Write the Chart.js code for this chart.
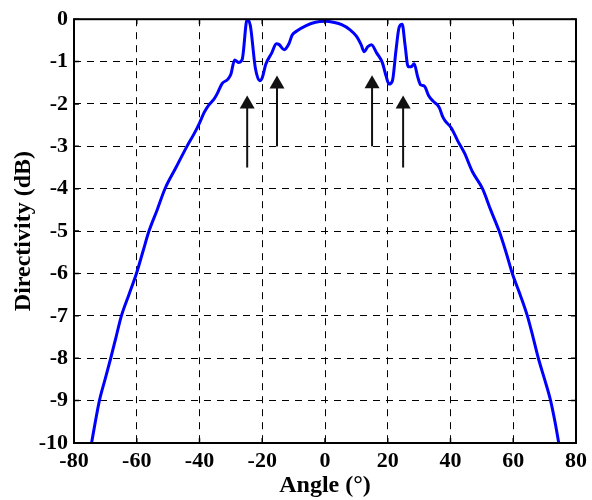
<!DOCTYPE html>
<html lang="en">
  <head>
    <title>Directivity vs Angle</title>
    <meta charset="UTF-8" />
    <script src="https://cdn.jsdelivr.net/npm/chart.js@4.4.1/dist/chart.umd.min.js"></script>
    <style>
      html, body { margin: 0; padding: 0; background: #fff; }
      #wrap { width: 592px; height: 500px; }
    </style>
  </head>

  <body>
    <div id="wrap"><canvas id="chart"></canvas></div>

    <script>
      const angles = [
        -74.4, -73.2, -71.9, -70.1, -68.3, -66.6, -64.9, -62.5, -60.1, -58.1,
        -56.1, -53.5, -51, -47.5, -44, -41.7, -40, -38.5, -37, -35.5, -34.3,
        -32.8, -31, -30, -28.8, -27.6, -26.4, -24.8, -23.8, -22.2, -20.8, -20,
        -18.9, -17, -15.5, -14.6, -13, -11.5, -10.5, -9, -6, -3, 0, 3, 5.3, 8,
        10, 11.5, 12.5, 13.6, 14.8, 16.5, 18.3, 19.5, 20.4, 21.5, 22.6, 23.6,
        24.6, 25.5, 26.5, 27.5, 28.4, 29.5, 30.5, 31.7, 33, 34.4, 35.8, 36.5,
        37.5, 38.3, 40.2, 42.3, 44.4, 47, 50.2, 52.8, 55.5, 57.7, 59.7, 62.2,
        64.5, 66.3, 68.0, 70.0, 71.9, 73.3, 74.5,
      ]
      const directivity = [
        -10, -9.5, -9.0, -8.5, -8.0, -7.5, -7.0, -6.5, -6.0, -5.5,
        -5.0, -4.5, -4.0, -3.5, -3.0, -2.7, -2.45, -2.2, -2.02, -1.9,
        -1.75, -1.52, -1.42, -1.3, -0.96, -1.02, -0.95, 0, -0.15, -1.15, -1.45,
        -1.38, -1.07, -0.8, -0.58, -0.6, -0.72, -0.58, -0.38, -0.28, -0.15,
        -0.07, -0.05, -0.08, -0.13, -0.25, -0.4, -0.6, -0.77, -0.65, -0.6,
        -0.8, -1.03, -1.35, -1.53, -1.45, -0.75, -0.2, -0.12, -0.6, -1.12,
        -1.12, -1.05, -1.35, -1.55, -1.58, -1.8, -1.93, -2.02, -2.1, -2.3,
        -2.4, -2.56, -2.87, -3.15, -3.6, -4.0, -4.5, -5.0, -5.5, -6.0, -6.5,
        -7.0, -7.5, -8.0, -8.5, -9.0, -9.5, -10,
      ]

      // arrows: angle, tail (dB), tip (dB)
      const arrowX = [-24.8, -15.3, 15.0, 24.9]
      const arrowTail = [-3.5, -3.0, -3.0, -3.5]
      const arrowTip = [-1.8, -1.33, -1.32, -1.8]

      const xTicks = [-80, -60, -40, -20, 0, 20, 40, 60, 80]
      const yTicks = [0, -1, -2, -3, -4, -5, -6, -7, -8, -9, -10]

      const tickFont = { family: 'Liberation Serif', size: 22, weight: 'bold' }
      const titleFont = { family: 'Liberation Serif', size: 24, weight: 'bold' }

      const frame = {
        id: 'frame',
        afterDatasetsDraw(chart) {
          const { ctx, chartArea: a, scales } = chart
          ctx.save()
          // arrows
          ctx.fillStyle = '#111'
          ctx.strokeStyle = '#111'
          ctx.lineWidth = 2
          arrowX.forEach((ax, i) => {
            const px = scales.x.getPixelForValue(ax)
            const y0 = scales.y.getPixelForValue(arrowTail[i])
            const y1 = scales.y.getPixelForValue(arrowTip[i])
            ctx.beginPath()
            ctx.moveTo(px, y0)
            ctx.lineTo(px, y1 + 10)
            ctx.stroke()
            ctx.beginPath()
            ctx.moveTo(px, y1)
            ctx.lineTo(px - 7.5, y1 + 13)
            ctx.lineTo(px + 7.5, y1 + 13)
            ctx.closePath()
            ctx.fill()
          })
          // box and inward ticks
          ctx.strokeStyle = '#000'
          ctx.lineWidth = 2
          ctx.strokeRect(a.left, a.top, a.right - a.left, a.bottom - a.top)
          ctx.lineWidth = 1.5
          ctx.beginPath()
          xTicks.forEach((v) => {
            const p = scales.x.getPixelForValue(v)
            ctx.moveTo(p, a.bottom)
            ctx.lineTo(p, a.bottom - 5)
            ctx.moveTo(p, a.top)
            ctx.lineTo(p, a.top + 5)
          })
          yTicks.forEach((v) => {
            const p = scales.y.getPixelForValue(v)
            ctx.moveTo(a.left, p)
            ctx.lineTo(a.left + 5, p)
            ctx.moveTo(a.right, p)
            ctx.lineTo(a.right - 5, p)
          })
          ctx.stroke()
          ctx.restore()
        },
      }

      new Chart(document.getElementById('chart'), {
        type: 'line',
        data: {
          datasets: [
            {
              data: angles.map((a, i) => ({ x: a, y: directivity[i] })),
              borderColor: '#0000ff',
              borderWidth: 3,
              pointRadius: 0,
              cubicInterpolationMode: 'monotone',
              fill: false,
            },
          ],
        },
        options: {
          responsive: true,
          maintainAspectRatio: false,
          animation: false,
          layout: { padding: { left: 0, right: 13, top: 18, bottom: 0 } },
          plugins: {
            legend: { display: false },
            tooltip: { enabled: false },
          },
          scales: {
            x: {
              type: 'linear',
              min: -80,
              max: 80,
              afterFit: (s) => { s.height = 57 },
              afterBuildTicks: (s) => { s.ticks = xTicks.map((v) => ({ value: v })) },
              ticks: { color: '#000', font: tickFont, padding: 5, maxRotation: 0 },
              grid: { color: '#000', lineWidth: 1, drawTicks: false },
              border: { display: false, dash: [7, 6] },
              title: {
                display: true,
                text: 'Angle (°)',
                color: '#000',
                font: titleFont,
                padding: { top: 0, bottom: 0 },
              },
            },
            y: {
              type: 'linear',
              min: -10,
              max: 0,
              afterFit: (s) => { s.width = 74 },
              afterBuildTicks: (s) => { s.ticks = yTicks.map((v) => ({ value: v })) },
              ticks: { color: '#000', font: tickFont, padding: 6 },
              grid: { color: '#000', lineWidth: 1, drawTicks: false },
              border: { display: false, dash: [7, 6] },
              title: {
                display: true,
                text: 'Directivity (dB)',
                color: '#000',
                font: titleFont,
                padding: { top: 9, bottom: 0 },
              },
            },
          },
        },
        plugins: [frame],
      })
    </script>
  </body>
</html>
